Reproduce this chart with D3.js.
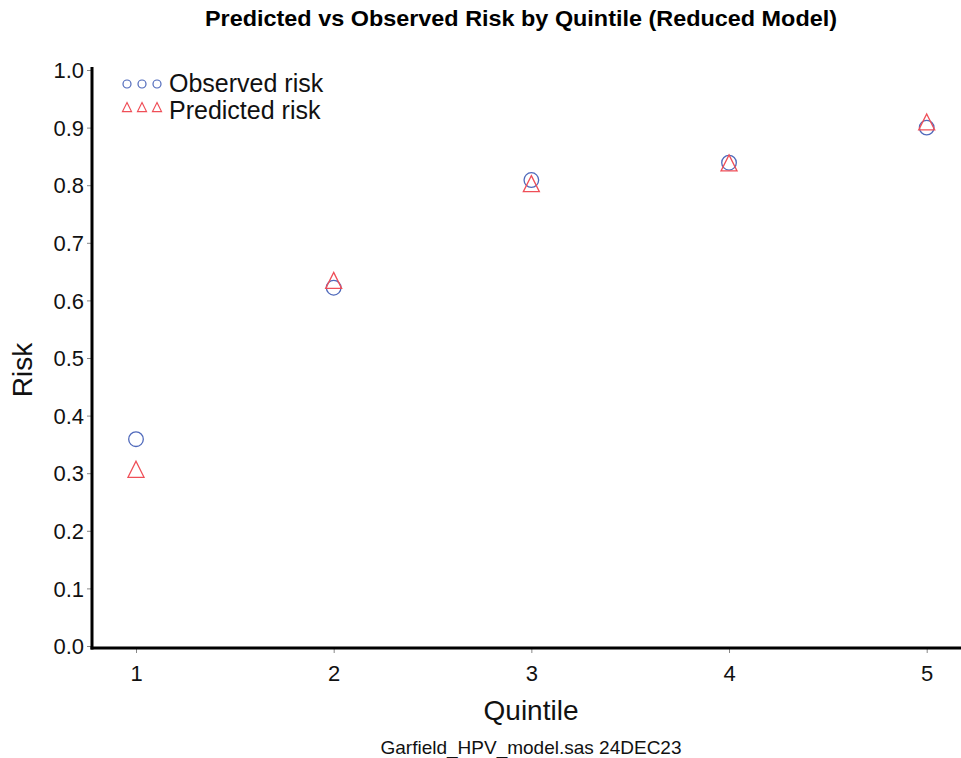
<!DOCTYPE html>
<html><head><meta charset="utf-8">
<script src="https://cdn.jsdelivr.net/npm/d3@7"></script>
<style>body{margin:0;background:#fff}text{font-family:"Liberation Sans",Arial,sans-serif}</style>
</head><body><svg id="c" width="961" height="758"></svg>
<script>
const quintiles = [1, 2, 3, 4, 5];
const observedRisk = [0.359, 0.622, 0.809, 0.839, 0.900];
const predictedRisk = [0.304, 0.632, 0.800, 0.836, 0.907];
const yTicks = [0.0, 0.1, 0.2, 0.3, 0.4, 0.5, 0.6, 0.7, 0.8, 0.9, 1.0];
const seriesNames = ["Observed risk", "Predicted risk"];

const svg = d3.select("#c");
const blue = "#4f69bb", red = "#ef4f58";
const x = d3.scaleLinear().domain([1, 5]).range([136, 926.7]);
const y = d3.scaleLinear().domain([0, 1]).range([646, 70]);
const axX = 92, axY = 648;

svg.append("text").attr("x", 521).attr("y", 26).attr("text-anchor", "middle")
  .attr("font-weight", "bold").attr("font-size", 22).attr("textLength", 632).attr("lengthAdjust", "spacingAndGlyphs")
  .text("Predicted vs Observed Risk by Quintile (Reduced Model)");

// y axis
const ya = svg.append("g").attr("transform", `translate(${axX},0)`)
  .call(d3.axisLeft(y).tickValues(yTicks).tickFormat(d3.format(".1f")).tickSize(5).tickPadding(3));
ya.select(".domain").remove();
ya.selectAll(".tick line").attr("stroke", "#888").attr("stroke-width", 1);
ya.selectAll(".tick text").attr("font-size", 22).attr("fill", "#111").attr("font-family", "Liberation Sans, Arial, sans-serif").attr("dy", "0.35em");

// x axis
const xa = svg.append("g").attr("transform", `translate(0,${axY})`)
  .call(d3.axisBottom(x).tickValues(quintiles).tickFormat(d3.format("d")).tickSize(5).tickPadding(12));
xa.select(".domain").remove();
xa.selectAll(".tick line").attr("stroke", "#888").attr("stroke-width", 1);
xa.selectAll(".tick text").attr("font-size", 22).attr("fill", "#111").attr("font-family", "Liberation Sans, Arial, sans-serif");

svg.append("line").attr("x1", axX).attr("x2", axX).attr("y1", 67).attr("y2", axY + 1.5).attr("stroke", "#000").attr("stroke-width", 3);
svg.append("line").attr("x1", axX - 1.5).attr("x2", 961).attr("y1", axY).attr("y2", axY).attr("stroke", "#000").attr("stroke-width", 3);

svg.append("text").attr("transform", "translate(32,370) rotate(-90)").attr("text-anchor", "middle")
  .attr("font-size", 28).attr("fill", "#111").text("Risk");
svg.append("text").attr("x", 531).attr("y", 720).attr("text-anchor", "middle")
  .attr("font-size", 28).attr("fill", "#111").text("Quintile");
svg.append("text").attr("x", 531).attr("y", 754).attr("text-anchor", "middle")
  .attr("font-size", 19).attr("fill", "#111").text("Garfield_HPV_model.sas 24DEC23");

const tri = (cx, cy, s) => `M${cx},${cy - s * 0.6}L${cx + s / 2},${cy + s * 0.4}L${cx - s / 2},${cy + s * 0.4}Z`;

svg.append("g").selectAll("circle").data(quintiles).join("circle")
  .attr("cx", d => x(d)).attr("cy", (d, i) => y(observedRisk[i])).attr("r", 7.3)
  .attr("fill", "none").attr("stroke", blue).attr("stroke-width", 1.3);
svg.append("g").selectAll("path").data(quintiles).join("path")
  .attr("d", (d, i) => tri(x(d), y(predictedRisk[i]), 16))
  .attr("fill", "none").attr("stroke", red).attr("stroke-width", 1.3);

// legend
const lg = svg.append("g");
[127, 142, 157].forEach(cx => {
  lg.append("circle").attr("cx", cx).attr("cy", 84).attr("r", 4).attr("fill", "none").attr("stroke", blue).attr("stroke-width", 1.2);
  lg.append("path").attr("d", tri(cx, 108, 9)).attr("fill", "none").attr("stroke", red).attr("stroke-width", 1.2);
});
lg.append("text").attr("x", 169).attr("y", 92).attr("font-size", 25).attr("fill", "#111").text(seriesNames[0]);
lg.append("text").attr("x", 169).attr("y", 119).attr("font-size", 25).attr("fill", "#111").text(seriesNames[1]);
</script></body></html>
